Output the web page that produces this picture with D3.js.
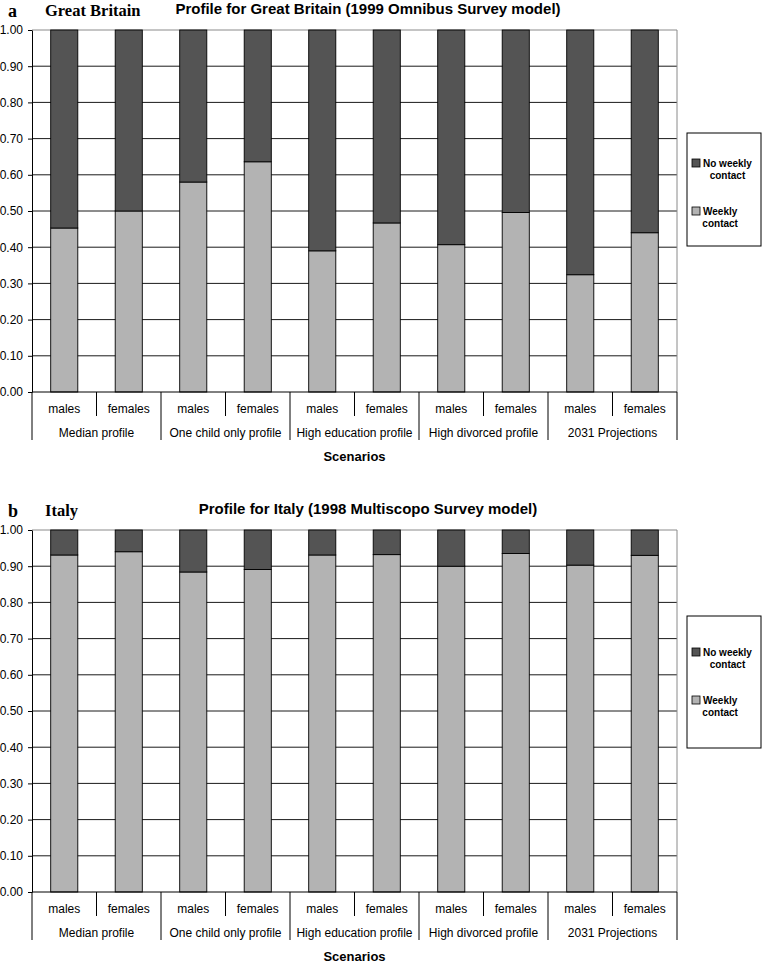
<!DOCTYPE html>
<html>
<head>
<meta charset="utf-8">
<script src="https://cdn.jsdelivr.net/npm/d3@7"></script>
<style>
  body { margin: 0; background: #fff; }
  svg { display: block; }
  text { font-family: "Liberation Sans", Arial, sans-serif; fill: #000; }
  .serif { font-family: "Liberation Serif", "Times New Roman", serif; font-weight: bold; }
</style>
</head>
<body>
<div id="chart"></div>
<script>
// scenario groups and the two sexes inside each one
var scenarios = ["Median profile", "One child only profile", "High education profile", "High divorced profile", "2031 Projections"];
var sexes = ["males", "females"];

// legend entries (top of the stack first)
var seriesNames = ["No weekly contact", "Weekly contact"];

// y tick labels
var yTicks = [0, 0.1, 0.2, 0.3, 0.4, 0.5, 0.6, 0.7, 0.8, 0.9, 1.0];

// Great Britain, share by scenario/sex (males, females for each scenario)
var gbWeekly   = [0.453, 0.500, 0.580, 0.636, 0.390, 0.467, 0.407, 0.496, 0.324, 0.440];
var gbNoWeekly = [0.547, 0.500, 0.420, 0.364, 0.610, 0.533, 0.593, 0.504, 0.676, 0.560];

// Italy
var itWeekly   = [0.931, 0.940, 0.884, 0.891, 0.931, 0.932, 0.900, 0.935, 0.903, 0.930];
var itNoWeekly = [0.069, 0.060, 0.116, 0.109, 0.069, 0.068, 0.100, 0.065, 0.097, 0.070];

var width = 762;
var height = 965;

var colors = { noWeekly: "#545454", weekly: "#b3b3b3" };

var svg = d3.select("#chart")
            .append("svg")
            .attr("width", width)
            .attr("height", height);

function panel(opt) {
    var g = svg.append("g").attr("transform", "translate(0," + opt.dy + ")");

    var left = 32, right = 677, top = 30, bottom = 392;

    // one row per bar
    var keys = [];
    var rows = [];
    scenarios.forEach(function(s, i) {
        sexes.forEach(function(sx, j) {
            var k = s + "|" + sx;
            keys.push(k);
            rows.push({ key: k, sex: sx, weekly: opt.weekly[i * 2 + j], noWeekly: opt.noWeekly[i * 2 + j] });
        });
    });

    var xScale = d3.scaleBand().domain(keys).range([left, right]);
    var groupScale = d3.scaleBand().domain(scenarios).range([left, right]);
    var yScale = d3.scaleLinear().domain([0, 1]).range([bottom, top]);

    // grid lines
    g.append("g")
        .selectAll("line")
        .data(yTicks.filter(function(d) { return d > 0 && d < 1; }))
        .enter()
        .append("line")
        .attr("x1", left).attr("x2", right)
        .attr("y1", function(d) { return yScale(d); })
        .attr("y2", function(d) { return yScale(d); })
        .attr("stroke", "#1a1a1a")
        .attr("stroke-width", 1);

    // plot frame top / right
    g.append("path")
        .attr("d", "M" + left + "," + yScale(1) + "H" + right + "V" + bottom)
        .attr("fill", "none")
        .attr("stroke", "#8a8a8a")
        .attr("stroke-width", 1);

    // stacked bars
    var stack = d3.stack().keys(["weekly", "noWeekly"]);
    var series = stack(rows);
    var barW = xScale.bandwidth() * 0.42;

    g.append("g")
        .selectAll("g")
        .data(series)
        .enter()
        .append("g")
        .attr("fill", function(d) { return colors[d.key]; })
        .selectAll("rect")
        .data(function(d) { return d; })
        .enter()
        .append("rect")
        .attr("x", function(d) { return xScale(d.data.key) + (xScale.bandwidth() - barW) / 2; })
        .attr("y", function(d) { return yScale(d[1]); })
        .attr("width", barW)
        .attr("height", function(d) { return yScale(d[0]) - yScale(d[1]); })
        .attr("stroke", "#000")
        .attr("stroke-width", 0.9);

    // y axis
    var yAxis = d3.axisLeft(yScale)
                  .tickValues(yTicks)
                  .tickFormat(d3.format(".2f"))
                  .tickSize(4)
                  .tickSizeOuter(0)
                  .tickPadding(5);
    var ya = g.append("g")
        .attr("transform", "translate(" + left + ",0)")
        .call(yAxis);
    ya.selectAll("text").style("font-size", "12px").attr("fill", "#000");
    ya.selectAll("line, path").attr("stroke", "#000");

    // x axis line
    g.append("line")
        .attr("x1", left).attr("x2", right)
        .attr("y1", bottom).attr("y2", bottom)
        .attr("stroke", "#000");

    // category dividers: short between sexes, long between scenarios
    var bounds = d3.range(keys.length + 1);
    g.append("g")
        .selectAll("line")
        .data(bounds)
        .enter()
        .append("line")
        .attr("x1", function(i) { return left + i * xScale.step(); })
        .attr("x2", function(i) { return left + i * xScale.step(); })
        .attr("y1", bottom)
        .attr("y2", function(i) { return i % 2 === 0 ? bottom + 48 : bottom + 24; })
        .attr("stroke", "#000");

    g.append("g")
        .selectAll("text")
        .data(rows)
        .enter()
        .append("text")
        .attr("x", function(d) { return xScale(d.key) + xScale.bandwidth() / 2; })
        .attr("y", bottom + 21)
        .attr("text-anchor", "middle")
        .style("font-size", "12px")
        .text(function(d) { return d.sex; });

    g.append("g")
        .selectAll("text")
        .data(scenarios)
        .enter()
        .append("text")
        .attr("x", function(d) { return groupScale(d) + groupScale.bandwidth() / 2; })
        .attr("y", bottom + 45)
        .attr("text-anchor", "middle")
        .style("font-size", "12px")
        .text(function(d) { return d; });

    // axis title
    g.append("text")
        .attr("x", (left + right) / 2)
        .attr("y", bottom + 69)
        .attr("text-anchor", "middle")
        .style("font-size", "13px")
        .style("font-weight", "bold")
        .text("Scenarios");

    // panel letter, country and title
    g.append("text")
        .attr("class", "serif")
        .attr("x", 8).attr("y", 17)
        .style("font-size", "18px")
        .text(opt.letter);
    g.append("text")
        .attr("class", "serif")
        .attr("x", 45).attr("y", 16)
        .style("font-size", "16.5px")
        .text(opt.country);
    g.append("text")
        .attr("x", 368).attr("y", 14)
        .attr("text-anchor", "middle")
        .style("font-size", "15px")
        .style("font-weight", "bold")
        .text(opt.title);

    // legend
    var lg = g.append("g").attr("transform", "translate(687," + opt.legendTop + ")");
    lg.append("rect")
        .attr("width", 74).attr("height", opt.legendH)
        .attr("fill", "#fff")
        .attr("stroke", "#000");
    var items = [
        { name: seriesNames[0], color: colors.noWeekly },
        { name: seriesNames[1], color: colors.weekly }
    ];
    items.forEach(function(it, i) {
        var yy = opt.legendFirst + i * 48;
        lg.append("rect")
            .attr("x", 5).attr("y", yy)
            .attr("width", 8).attr("height", 8)
            .attr("fill", it.color)
            .attr("stroke", "#000")
            .attr("stroke-width", 0.8);
        var words = it.name.split(" ");
        var line1 = words.slice(0, -1).join(" ");
        var t1 = lg.append("text")
            .attr("x", 16).attr("y", yy + 8)
            .style("font-size", "10px")
            .style("font-weight", "bold")
            .text(line1);
        var mid = 16 + t1.node().getComputedTextLength() / 2;
        lg.append("text")
            .attr("x", mid).attr("y", yy + 20)
            .attr("text-anchor", "middle")
            .style("font-size", "10px")
            .style("font-weight", "bold")
            .text(words[words.length - 1]);
    });
}

panel({
    dy: 0,
    letter: "a",
    country: "Great Britain",
    title: "Profile for Great Britain (1999 Omnibus Survey model)",
    weekly: gbWeekly,
    noWeekly: gbNoWeekly,
    legendTop: 133, legendH: 113, legendFirst: 26
});

panel({
    dy: 500,
    letter: "b",
    country: "Italy",
    title: "Profile for Italy (1998 Multiscopo Survey model)",
    weekly: itWeekly,
    noWeekly: itNoWeekly,
    legendTop: 116, legendH: 132, legendFirst: 32
});
</script>
</body>
</html>
